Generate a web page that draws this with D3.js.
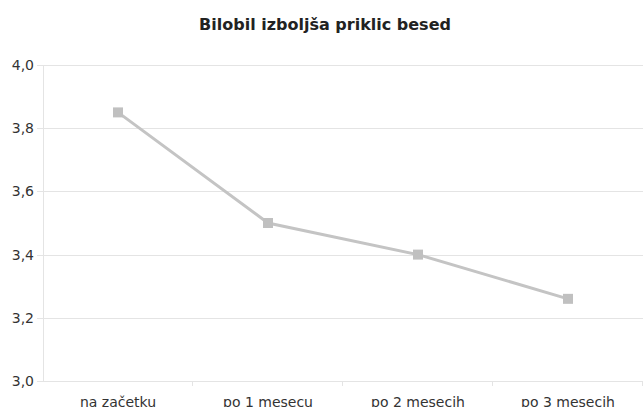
<!DOCTYPE html>
<html><head><meta charset="utf-8">
<script src="https://cdn.jsdelivr.net/npm/d3@7"></script>
<style>body{margin:0;background:#fff}svg{display:block}</style>
</head><body>
<script>
const categories = ["na začetku", "po 1 mesecu", "po 2 mesecih", "po 3 mesecih"];
const values = [3.85, 3.50, 3.40, 3.26];
const yTicks = [3.0, 3.2, 3.4, 3.6, 3.8, 4.0];
const title = "Bilobil izboljša priklic besed";

const W = 644, H = 407;
const m = {left: 43, right: 1, top: 65, bottom: 26};
const svg = d3.select("body").append("svg").attr("width", W).attr("height", H);
const x = d3.scaleBand().domain(categories).range([m.left, W - m.right]);
const y = d3.scaleLinear().domain([3.0, 4.0]).range([H - m.bottom, m.top]);
const font = "DejaVu Sans, Verdana, sans-serif";
const grid = "#e4e4e4";

svg.append("text").attr("x", 325).attr("y", 30).attr("text-anchor", "middle")
  .attr("font-family", font).attr("font-weight", "bold").attr("font-size", 16)
  .attr("fill", "#222").text(title);

// gridlines
svg.append("g").selectAll("line").data(yTicks).join("line")
  .attr("x1", m.left - 6).attr("x2", W - m.right)
  .attr("y1", d => Math.round(y(d)) + 0.5).attr("y2", d => Math.round(y(d)) + 0.5)
  .attr("stroke", grid);

// y axis line
svg.append("line").attr("x1", m.left + 0.5).attr("x2", m.left + 0.5)
  .attr("y1", y(4.0)).attr("y2", y(3.0)).attr("stroke", grid);

// y labels
svg.append("g").selectAll("text").data(yTicks).join("text")
  .attr("x", m.left - 9).attr("y", d => y(d)).attr("dy", "0.35em")
  .attr("text-anchor", "end").attr("font-family", font).attr("font-size", 14)
  .attr("fill", "#333").text(d => d.toFixed(1).replace(".", ","));

// x ticks at band boundaries
const bounds = categories.map(c => x(c)).concat([x(categories[3]) + x.bandwidth()]);
svg.append("g").selectAll("line").data(bounds.slice(1)).join("line")
  .attr("x1", d => Math.round(d) - 0.5).attr("x2", d => Math.round(d) - 0.5)
  .attr("y1", y(3.0)).attr("y2", y(3.0) + 5).attr("stroke", grid);

// x labels
svg.append("g").selectAll("text").data(categories).join("text")
  .attr("x", d => x(d) + x.bandwidth() / 2).attr("y", y(3.0) + 25.5)
  .attr("text-anchor", "middle").attr("font-family", font).attr("font-size", 14)
  .attr("fill", "#333").text(d => d);

// line
const line = d3.line().x((d, i) => x(categories[i]) + x.bandwidth() / 2).y(d => y(d));
svg.append("path").datum(values).attr("d", line).attr("fill", "none")
  .attr("stroke", "#c4c4c4").attr("stroke-width", 3);

// markers
svg.append("g").selectAll("rect").data(values).join("rect")
  .attr("x", (d, i) => x(categories[i]) + x.bandwidth() / 2 - 5)
  .attr("y", d => y(d) - 5).attr("width", 10).attr("height", 10)
  .attr("fill", "#c0c0c0");
</script>
</body></html>
